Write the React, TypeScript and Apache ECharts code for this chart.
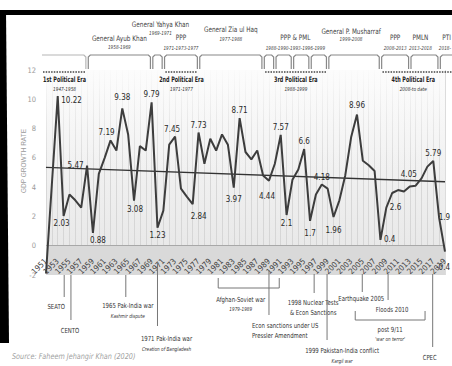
import React, { useEffect, useRef } from 'react';
import * as echarts from 'echarts';

const FONT = '"Liberation Sans Narrow", "Arial Narrow", "DejaVu Sans Condensed", "Liberation Sans", sans-serif';
const FONT_WIDE = '"Liberation Sans", Arial, sans-serif';

const years = [
  '1951', '1952', '1953', '1954', '1955', '1956', '1957', '1958', '1959', '1960',
  '1961', '1962', '1963', '1964', '1965', '1966', '1967', '1968', '1969', '1970',
  '1971', '1972', '1973', '1974', '1975', '1976', '1977', '1978', '1979', '1980',
  '1981', '1982', '1983', '1984', '1985', '1986', '1987', '1988', '1989', '1990',
  '1991', '1992', '1993', '1994', '1995', '1996', '1997', '1998', '1999', '2000',
  '2001', '2002', '2003', '2004', '2005', '2006', '2007', '2008', '2009', '2010',
  '2011', '2012', '2013', '2014', '2015', '2016', '2017', '2018', '2019',
];

const growth = [
  -1.9, 4.2, 10.22, 2.03, 3.5, 3.1, 2.6, 5.47, 0.88, 4.9,
  6.0, 7.19, 6.5, 9.38, 7.6, 3.08, 6.8, 6.5, 9.79, 1.23,
  2.4, 6.9, 7.45, 3.9, 3.35, 2.84, 7.73, 5.6, 7.3, 6.5,
  7.6, 6.9, 3.97, 8.71, 6.4, 5.9, 6.5, 4.8, 4.44, 5.6,
  7.57, 2.1, 4.5, 5.2, 6.6, 1.7, 3.5, 4.18, 3.9, 1.96,
  3.1, 4.8, 7.4, 8.96, 5.8, 5.5, 5.1, 0.4, 2.6, 3.6,
  3.8, 3.7, 4.05, 4.1, 4.6, 5.4, 5.79, 1.9, -0.4,
];

const labelledYears = [
  '1953', '1954', '1958', '1959', '1962', '1964', '1966', '1969', '1970', '1973',
  '1976', '1977', '1983', '1984', '1989', '1991', '1992', '1995', '1996', '1998',
  '2000', '2004', '2008', '2009', '2013', '2017', '2018', '2019',
];

const trendStart = 5.35;
const trendEnd = 4.37;

const regimeBoxes = [
  [1947, 1958], [1958, 1969], [1969, 1971], [1971, 1977], [1977, 1988],
  [1988, 1990], [1990, 1993], [1993, 1996], [1996, 1999], [1999, 2008],
  [2008, 2013], [2013, 2018], [2018, 2023],
];

const regimeNames = [
  'General Ayub Khan', 'General Yahya Khan', 'PPP', 'General Zia ul Haq', 'PPP & PML',
  'General P. Musharraf', 'PPP', 'PMLN', 'PTI',
];
const regimePeriods = [
  '1958-1969', '1969-1971', '1971-1973-1977', '1977-1988', '1988-1990-1993-1996-1999',
  '1999-2008', '2008-2013', '2013-2018', '2018-',
];
const regimeSpans = [
  [1958, 1969], [1969, 1971], [1971, 1977], [1977, 1988], [1988, 1999],
  [1999, 2008], [2008, 2013], [2013, 2018], [2018, 2023],
];

const eraTitles = ['1st Political Era', '2nd Political Era', '3rd Political Era', '4th Political Era'];
const eraPeriods = ['1947-1958', '1971-1977', '1988-1999', '2008-to date'];
const eraSpans = [[1947, 1958], [1971, 1977], [1988, 1999], [2008, 2019]];

const eventYears = [1954.1, 1955.25, 1964.6, 1970.0, 1989.0, 1996.7, 1998.9, 2004.9, 2009.3, 2016.9];
const eventTexts = [
  ['SEATO'],
  ['CENTO'],
  ['1965 Pak-India war', 'Kashmir dispute'],
  ['1971 Pak-India war', 'Creation of Bangladesh'],
  ['Econ sanctions under US', 'Pressler Amendment'],
  ['1998 Nuclear Tests', '& Econ Sanctions'],
  ['1999 Pakistan-India conflict', 'Kargil war'],
  ['Earthquake 2005'],
  ['Floods 2010'],
  ['CPEC'],
];
const eventSubItalic = [false, false, true, true, false, false, true, false, false, false];

const bracketSpans = [[1980.35, 1990.75], [2003.7, 2015.6]];
const bracketTexts = [['Afghan-Soviet war', '1979-1989'], ['post 9/11', "'war on terror'"]];

const sourceText = 'Source: Faheem Jehangir Khan (2020)';
const yTitle = 'GDP GROWTH RATE';

// ---- layout (pixels / placement only) ----
const labelPlacement: Record<string, [string, number[]]> = {
  '1953': ['right', [0, 4]],
  '1954': ['bottom', [-2, 0]],
  '1958': ['left', [0, 0]],
  '1959': ['bottom', [5, 0]],
  '1962': ['top', [-4, 0]],
  '1964': ['top', [0, -3]],
  '1966': ['bottom', [1, 1]],
  '1969': ['top', [0, 0]],
  '1970': ['bottom', [0, 0]],
  '1973': ['top', [-3, 0]],
  '1976': ['bottom', [6, 5]],
  '1977': ['top', [0, 0]],
  '1983': ['bottom', [0, 4]],
  '1984': ['top', [0, 0]],
  '1989': ['bottom', [-2, 8]],
  '1991': ['top', [0, 0]],
  '1992': ['bottom', [0, 1]],
  '1995': ['top', [0, 0]],
  '1996': ['bottom', [0, 5]],
  '1998': ['top', [0, 0]],
  '2000': ['bottom', [0, 6]],
  '2004': ['top', [0, -2]],
  '2008': ['right', [0, 0]],
  '2009': ['right', [0, 0]],
  '2013': ['top', [-1, -4]],
  '2017': ['top', [0, 0]],
  '2018': ['right', [-4, 0]],
  '2019': ['bottom', [-2, 8]],
};

const regimeTextLayout = [
  [39, 47, 0], [25, 33, 3], [38, 48, 0], [30, 39, 0], [38, 48, 0],
  [32, 39, -3], [38, 48, 0], [38, 48, -4], [38, 48, 0],
];
// [lineTop, lineBottom, textDx, textY, align]
const eventLayout: [number, number, number, number, string][] = [
  [275, 297, -8, 307, 'center'],
  [275, 320, -1, 331, 'center'],
  [275, 297, 2, 306, 'center'],
  [262, 326, 9, 339, 'center'],
  [270, 315, -17, 326, 'left'],
  [274, 293, -1, 303, 'center'],
  [274, 340, 15, 351, 'center'],
  [274, 292, -1, 299, 'center'],
  [274, 300, 4, 310, 'center'],
  [274, 347, -3, 358, 'center'],
];
const bracketLayout = [
  [278, 288, -8, 300],
  [311, 320, 0, 330],
];

export default function App() {
  const ref = useRef<HTMLDivElement>(null);

  useEffect(() => {
    if (!ref.current) return;
    const chart = echarts.init(ref.current, undefined, { renderer: 'svg' });

    const seriesData = growth.map((v, i) => {
      const p = labelPlacement[years[i]];
      if (!p || labelledYears.indexOf(years[i]) < 0) return v;
      return {
        value: v,
        label: { show: true, position: p[0] },
      };
    });

    chart.setOption({
      animation: false,
      textStyle: { fontFamily: FONT },
      grid: {
        left: 46, right: 7, top: 70, bottom: 91, show: true, borderWidth: 0,
        backgroundColor: new echarts.graphic.LinearGradient(0, 0, 0, 1, [
          { offset: 0, color: '#fbfbfb' },
          { offset: 1, color: '#e6e6e6' },
        ]),
      },
      xAxis: [
        {
          type: 'category',
          data: years,
          boundaryGap: false,
          z: 0,
          axisLine: { show: false, onZero: false },
          axisTick: { show: false },
          axisLabel: { show: false },
          splitLine: { show: true, interval: 0, lineStyle: { color: '#cdcdcd', width: 0.7 } },
        },
        {
          type: 'category',
          data: years,
          boundaryGap: false,
          position: 'bottom',
          z: 20,
          axisLine: { show: false, onZero: false },
          axisTick: { show: false },
          axisLabel: {
            interval: 1, rotate: 45, fontSize: 8, color: '#444', margin: -15, fontFamily: FONT,
          },
          splitLine: { show: false },
        },
      ],
      yAxis: {
        type: 'value', min: -2, max: 12, interval: 2,
        axisLine: { show: false },
        axisTick: { show: false },
        axisLabel: { fontSize: 7.5, color: '#9a9a9a', margin: 10, fontFamily: FONT },
        splitLine: { show: false },
      },
      series: [
        {
          type: 'line',
          data: seriesData,
          xAxisIndex: 0,
          symbol: 'circle',
          symbolSize: 1,
          showSymbol: true,
          showAllSymbol: true,
          z: 5,
          itemStyle: { color: 'rgba(0,0,0,0)' },
          lineStyle: { color: '#3d3d3d', width: 2 },
          label: {
            show: false, fontSize: 8, color: '#2a2a2a', fontFamily: FONT, distance: 3,
          },
          labelLayout: (params: any) => {
            const p = labelPlacement[years[params.dataIndex]];
            if (!p) return { hideOverlap: false };
            return { dx: p[1][0], dy: p[1][1], hideOverlap: false };
          },
          markArea: {
            silent: true,
            label: { show: false },
            data: [
              [
                { xAxis: '1951', yAxis: -2, itemStyle: { color: '#d9d9d9' } },
                { xAxis: '2019', yAxis: 0 },
              ],
              [
                {
                  xAxis: '1951', yAxis: 12,
                  itemStyle: {
                    color: new echarts.graphic.LinearGradient(0, 0, 0, 1, [
                      { offset: 0, color: 'rgba(252,252,252,0.95)' },
                      { offset: 1, color: 'rgba(245,245,245,0)' },
                    ]),
                  },
                },
                { xAxis: '2019', yAxis: 5 },
              ],
            ],
          },
          markLine: {
            silent: true,
            symbol: ['none', 'none'],
            label: { show: false },
            lineStyle: { color: '#333', width: 1.5, type: 'solid' },
            data: [
              [{ coord: ['1951', 0], lineStyle: { color: '#a8a8a8', width: 1 } }, { coord: ['2019', 0] }],
              [{ coord: ['1951', trendStart] }, { coord: ['2019', trendEnd] }],
            ],
          },
        },
      ],
    });

    const x0 = chart.convertToPixel({ xAxisIndex: 0 }, 0) as number;
    const x1 = chart.convertToPixel({ xAxisIndex: 0 }, 1) as number;
    const dx = x1 - x0;
    const xOf = (yr: number) => x0 + (yr - 1951) * dx;
    const yTop = chart.convertToPixel({ yAxisIndex: 0 }, 12) as number;

    const g: any[] = [];
    const txt = (x: number, y: number, s: string, o: any = {}) => {
      g.push({
        type: 'text', x, y, z: 50, silent: true, scaleX: o.sx ?? 1, rotation: o.rot ?? 0,
        style: {
          text: s, fill: o.color ?? '#333', fontSize: o.size ?? 7,
          fontFamily: o.font ?? FONT, fontStyle: o.italic ? 'italic' : 'normal',
          fontWeight: o.bold ? 'bold' : 'normal', align: o.align ?? 'center', verticalAlign: 'middle',
        },
      });
    };
    const ln = (xa: number, ya: number, xb: number, yb: number, o: any = {}) => {
      g.push({
        type: 'line', silent: true, z: 50,
        shape: { x1: xa, y1: ya, x2: xb, y2: yb },
        style: { stroke: o.color ?? '#777', lineWidth: o.w ?? 1, lineDash: o.dash ?? null },
      });
    };
    const pl = (pts: number[][], o: any = {}) => {
      g.push({
        type: 'polyline', silent: true, z: 50, shape: { points: pts },
        style: { stroke: o.color ?? '#888', lineWidth: o.w ?? 1.2, fill: null },
      });
    };

    // photo frame
    g.push({ type: 'rect', z: 60, silent: true, shape: { x: 0, y: 10, width: 452, height: 5 }, style: { fill: '#000' } });
    g.push({ type: 'polygon', z: 60, silent: true, shape: { points: [[0, 10], [6, 10], [9, 343], [0, 343]] }, style: { fill: '#000' } });

    // regime boxes
    const boxTop = yTop - 15;
    const boxBot = yTop - 1;
    regimeBoxes.forEach(([a, b], i) => {
      let xa = xOf(a) + 1.2;
      const xb = xOf(b) - 1.2;
      const clamped = xa < x0 - 4;
      if (clamped) xa = x0 - 4;
      if (clamped) {
        pl([[xa, boxTop], [xb - 2, boxTop], [xb, boxTop + 2], [xb, boxBot]], { color: i === 0 ? '#b5b5b5' : '#888' });
      } else {
        pl([[xa, boxBot], [xa, boxTop + 2], [xa + 2, boxTop], [xb - 2, boxTop], [xb, boxTop + 2], [xb, boxBot]]);
      }
    });
    regimeNames.forEach((n, i) => {
      const [a, b] = regimeSpans[i];
      const [ny, py, ddx] = regimeTextLayout[i];
      const last = i === regimeNames.length - 1;
      const cx = last ? 451 : (xOf(a) + xOf(b)) / 2 + ddx;
      const al = last ? 'right' : 'center';
      txt(cx, ny, n, { size: 7.5, color: '#444', sx: 0.85, align: al });
      txt(cx, py, regimePeriods[i], { size: 5.5, color: '#444', italic: true, sx: 0.85, align: al });
    });

    // political eras
    eraTitles.forEach((t, i) => {
      const [a, b] = eraSpans[i];
      const xa = Math.max(xOf(a) + 2, x0 - 3);
      const xb = Math.min(xOf(b) - 1, 452);
      ln(xa, yTop + 2, i === 3 ? 452 : xb, yTop + 2, { color: '#444', w: 1.6, dash: [1.5, 1.2] });
      const cx = (xa + xb) / 2;
      txt(cx, yTop + 10, t, { size: 7.5, bold: true, color: '#222', sx: 0.72 });
      txt(cx, yTop + 19, eraPeriods[i], { size: 5.5, italic: true, color: '#333', sx: 0.85 });
    });

    // events below axis
    eventYears.forEach((yr, i) => {
      const [lt, lb, tdx, ty, al] = eventLayout[i];
      const x = xOf(yr);
      ln(x, lt, x, lb, { color: '#777', w: 1 });
      const lines = eventTexts[i];
      txt(x + tdx, ty, lines[0], { size: 7, color: '#333', align: al, sx: 0.85 });
      if (lines[1]) {
        txt(x + tdx, ty + 10, lines[1], {
          size: eventSubItalic[i] ? 5.5 : 7, italic: eventSubItalic[i], color: '#333', align: al, sx: 0.85,
        });
      }
    });

    // brackets
    bracketSpans.forEach(([a, b], i) => {
      const [bt, bb, tdx, ty] = bracketLayout[i];
      const xa = xOf(a);
      const xb = xOf(b);
      pl([[xa, bt], [xa, bb], [xb, bb], [xb, bt]], { color: '#777', w: 1 });
      const cx = (xa + xb) / 2 + tdx;
      txt(cx, ty, bracketTexts[i][0], { size: 7, color: '#333', sx: 0.85 });
      txt(cx, ty + 9, bracketTexts[i][1], { size: 5.5, italic: true, color: '#333', sx: 0.85 });
    });

    // axis title and source
    txt(23, 161, yTitle, { size: 6.5, color: '#9a9a9a', font: FONT_WIDE, rot: Math.PI / 2 });
    txt(12, 356, sourceText, { size: 8, color: '#a0a0a0', italic: true, align: 'left', sx: 0.9 });

    chart.setOption({ graphic: g });

    return () => chart.dispose();
  }, []);

  return (
    <div
      ref={ref}
      style={{ position: 'fixed', left: 0, top: 0, width: 452, height: 366, background: '#fff' }}
    />
  );
}
